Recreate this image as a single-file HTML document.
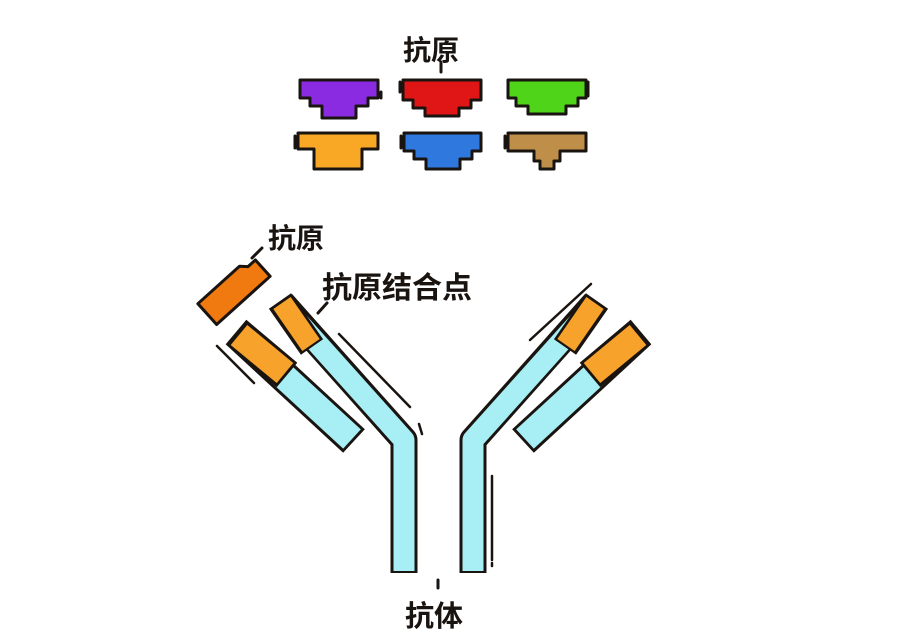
<!DOCTYPE html>
<html><head><meta charset="utf-8"><style>
html,body{margin:0;padding:0;background:#fff;}
svg{display:block}
text{font-family:"Liberation Sans","Noto Sans CJK SC",sans-serif;font-weight:bold;fill:#1a1410}
</style></head><body>
<svg width="898" height="644" viewBox="0 0 898 644" xmlns="http://www.w3.org/2000/svg">
<g stroke="#1a1410" stroke-width="3" stroke-linejoin="round">
 <path transform="translate(300,80)" fill="#8a2be2" d="M0,0 H78 V18 H68 V26 H56 V38 H22 V26 H10 V18 H0 Z"/>
 <path transform="translate(403,80)" fill="#e01515" d="M0,0 H78 V20 H68 V28 H56 V36 H22 V28 H10 V20 H0 Z"/>
 <path transform="translate(508,80)" fill="#4fd41a" d="M0,0 H78 V18 H70 V26 H58 V34 H20 V26 H8 V18 H0 Z"/>
 <path transform="translate(298,133)" fill="#f9a825" d="M0,0 H80 V16 H64 V36 H16 V16 H0 Z"/>
 <path transform="translate(404,133)" fill="#2f78dd" d="M0,0 H77 V18 H68 V26 H56 V36 H22 V26 H10 V18 H0 Z"/>
 <path transform="translate(508,133)" fill="#bf8f4a" d="M0,0 H78 V18 H52 V28 H46 V36 H32 V28 H26 V18 H0 Z"/>
</g>
<g fill="none" stroke="#1a1410" stroke-width="3" stroke-linecap="round">
 <line x1="381" y1="92" x2="381" y2="98"/><line x1="400" y1="82" x2="400" y2="92"/><line x1="588" y1="82" x2="588" y2="96"/>
 <line x1="295" y1="136" x2="295" y2="148"/><line x1="401" y1="136" x2="401" y2="148"/><line x1="505" y1="136" x2="505" y2="148"/>
 <line x1="441" y1="62" x2="441" y2="72"/>
 <line x1="438" y1="580" x2="438" y2="588"/>
 <line x1="262" y1="248" x2="252" y2="258"/>
 <line x1="327" y1="303" x2="318" y2="313"/>
</g>
<defs>
 <g id="arm">
  <polyline points="473,573 473,440 595,303" fill="none" stroke="#1a1410" stroke-width="27" stroke-linejoin="round"/>
  <polyline points="473,571 473,440 594,305" fill="none" stroke="#a8eef5" stroke-width="21" stroke-linejoin="round"/>
  <line x1="565" y1="347" x2="597" y2="301" stroke="#1a1410" stroke-width="27"/>
  <line x1="566" y1="345" x2="595" y2="303" stroke="#f7a22a" stroke-width="21"/>
  <line x1="523" y1="441" x2="640" y2="333" stroke="#1a1410" stroke-width="32"/>
  <line x1="525" y1="439" x2="638" y2="335" stroke="#a8eef5" stroke-width="26"/>
  <line x1="590" y1="375" x2="641" y2="332" stroke="#1a1410" stroke-width="32"/>
  <line x1="592" y1="373" x2="638" y2="335" stroke="#f7a22a" stroke-width="26"/>
 </g>
</defs>
<use href="#arm"/>
<use href="#arm" transform="translate(877,0) scale(-1,1)"/>
<g fill="none" stroke="#1a1410" stroke-width="2.5" stroke-linecap="round">
 <line x1="530" y1="340" x2="591" y2="284"/>
 <line x1="492" y1="476" x2="492" y2="560"/>
 <line x1="492" y1="563" x2="492" y2="566"/>
 <line x1="339" y1="334" x2="410" y2="407"/>
 <line x1="419" y1="424" x2="422" y2="434"/>
 <line x1="217" y1="346" x2="254" y2="383"/>
</g>
<g transform="translate(234,290) rotate(-42)">
 <path d="M-36,-14 H20 L26,-8 H36 V14 H-36 Z" fill="#f07a10" stroke="#1a1410" stroke-width="3" stroke-linejoin="round"/>
</g>
<text x="403" y="60" font-size="28">抗原</text>
<text x="268" y="248" font-size="28">抗原</text>
<text x="322" y="298" font-size="30">抗原结合点</text>
<text x="405" y="626" font-size="29">抗体</text>
</svg>
</body></html>
